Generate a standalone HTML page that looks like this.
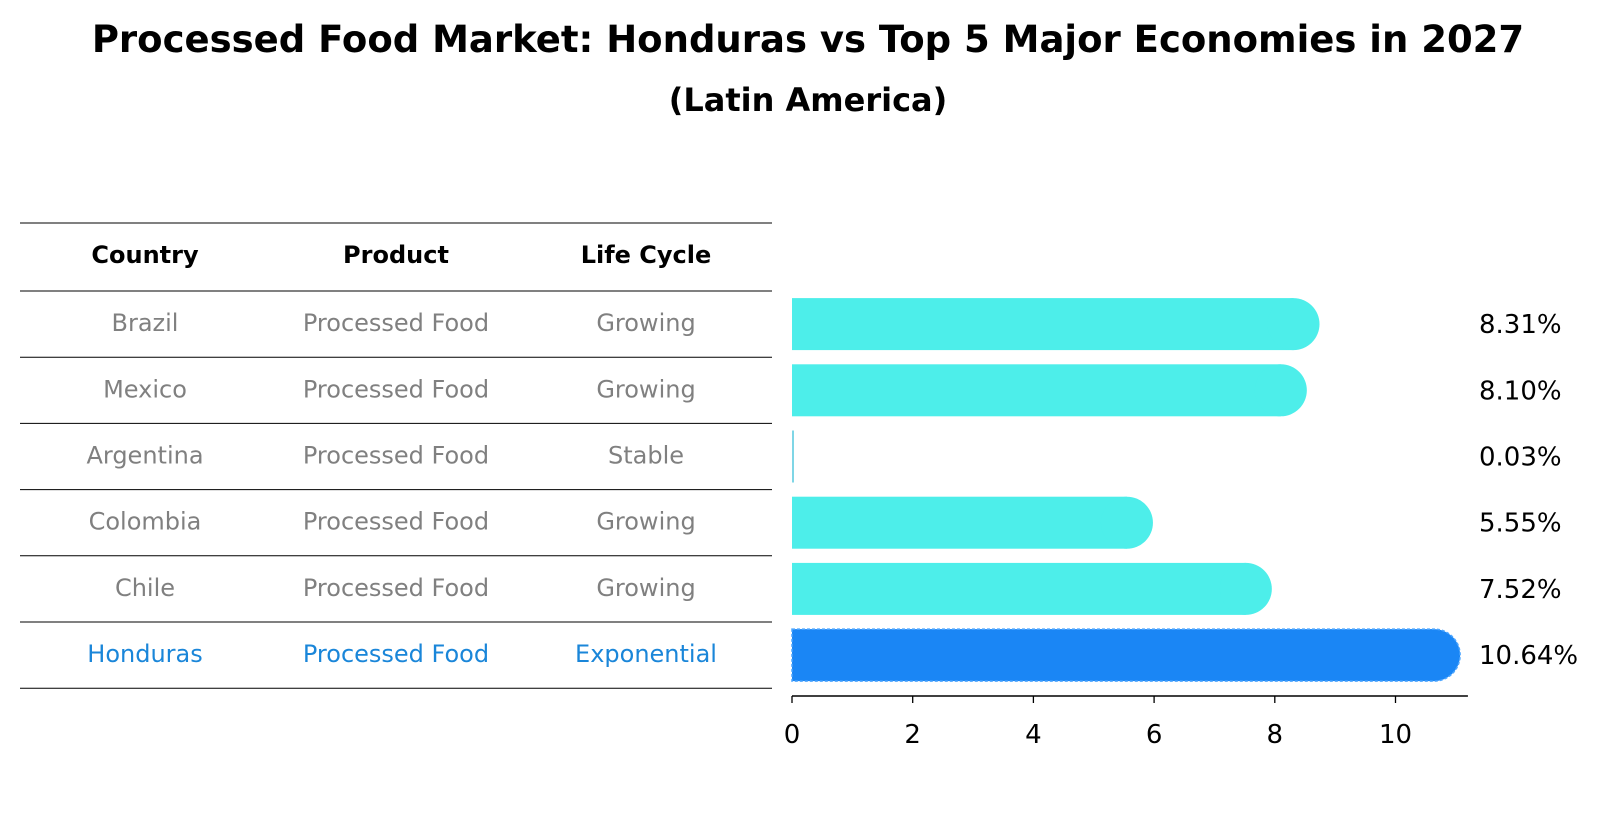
<!DOCTYPE html>
<html><head><meta charset="utf-8"><style>
body{margin:0;background:#fff;font-family:"Liberation Sans","DejaVu Sans",sans-serif}
</style></head><body>
<svg id="c" width="1604" height="823" xmlns="http://www.w3.org/2000/svg" font-family="DejaVu Sans, Liberation Sans, sans-serif">
<text x="808" y="52" text-anchor="middle" font-size="37" font-weight="bold">Processed Food Market: Honduras vs Top 5 Major Economies in 2027</text>
<text x="808" y="111" text-anchor="middle" font-size="32" font-weight="bold">(Latin America)</text>
<g id="tbl"></g>
<g id="bars"></g>
<g id="axis"></g>
</svg>
<script>
const countries=["Brazil","Mexico","Argentina","Colombia","Chile","Honduras"];
const products=["Processed Food","Processed Food","Processed Food","Processed Food","Processed Food","Processed Food"];
const cycles=["Growing","Growing","Stable","Growing","Growing","Exponential"];
const values=[8.31,8.10,0.03,5.55,7.52,10.64];
const ticks=[0,2,4,6,8,10];
const NS="http://www.w3.org/2000/svg";
const x0=792,sx=60.35,xMax=11.2;
const X=v=>x0+v*sx;
const rowTop=291,rowH=66.2,barH=52;
const Y=i=>rowTop+rowH*i+rowH/2;
function mk(t,a,p){const e=document.createElementNS(NS,t);for(const k in a)e.setAttribute(k,a[k]);p.appendChild(e);return e;}
const tbl=document.getElementById('tbl'),bars=document.getElementById('bars'),axis=document.getElementById('axis');
const cols=[145,396,646];
for(let i=0;i<=7;i++){
  const y=i==0?223:rowTop+rowH*(i-1);
  const l=mk('line',{x1:20,x2:772,y1:y,y2:y,stroke:'#000','stroke-width':1},tbl);
  
  
}
["Country","Product","Life Cycle"].forEach((h,j)=>{
  const t=mk('text',{x:cols[j],y:263,'text-anchor':'middle','font-size':24,'font-weight':'bold'},tbl);
  t.textContent=h;
  
  
});
countries.forEach((c,i)=>{
  const hl=c==="Honduras";
  [c,products[i],cycles[i]].forEach((v,j)=>{
    const t=mk('text',{x:cols[j],y:Y(i)+7,'text-anchor':'middle','font-size':24,fill:hl?'#1a86d9':'#808080'},tbl);
    t.textContent=v;
    
    
  });
  const col=hl?'#1a86f5':'#4deeea';
  const w=X(values[i])-x0, y=Y(i)-barH/2;
  const g=mk('g',{},bars);
  
  
  if(values[i]>0.1){
    mk('rect',{x:x0,y:y,width:w,height:barH,fill:col},g);
    mk('circle',{cx:x0+w,cy:Y(i),r:barH/2,fill:col},g);
    if(hl){mk('path',{d:`M${x0},${y} H${x0+w} A${barH/2},${barH/2} 0 0 1 ${x0+w},${y+barH} H${x0} Z`,fill:'none',stroke:'#4da6ff','stroke-width':1.5,'stroke-dasharray':'3 2'},g);}
  } else {
    mk('rect',{x:x0,y:y,width:Math.max(w,2),height:barH,fill:'#7fd6e6'},g);
  }
  const lb=mk('text',{x:1479,y:Y(i)+9,'font-size':26},bars);
  lb.textContent=values[i].toFixed(2)+'%';
  
  
});
mk('line',{x1:x0,x2:X(xMax),y1:696,y2:696,stroke:'#000','stroke-width':1.5},axis);
ticks.forEach(t=>{
  mk('line',{x1:X(t),x2:X(t),y1:696,y2:703,stroke:'#000','stroke-width':1.3},axis);
  const e=mk('text',{x:X(t),y:743,'text-anchor':'middle','font-size':26},axis);
  e.textContent=t;
  
  
});
</script>
</body></html>
